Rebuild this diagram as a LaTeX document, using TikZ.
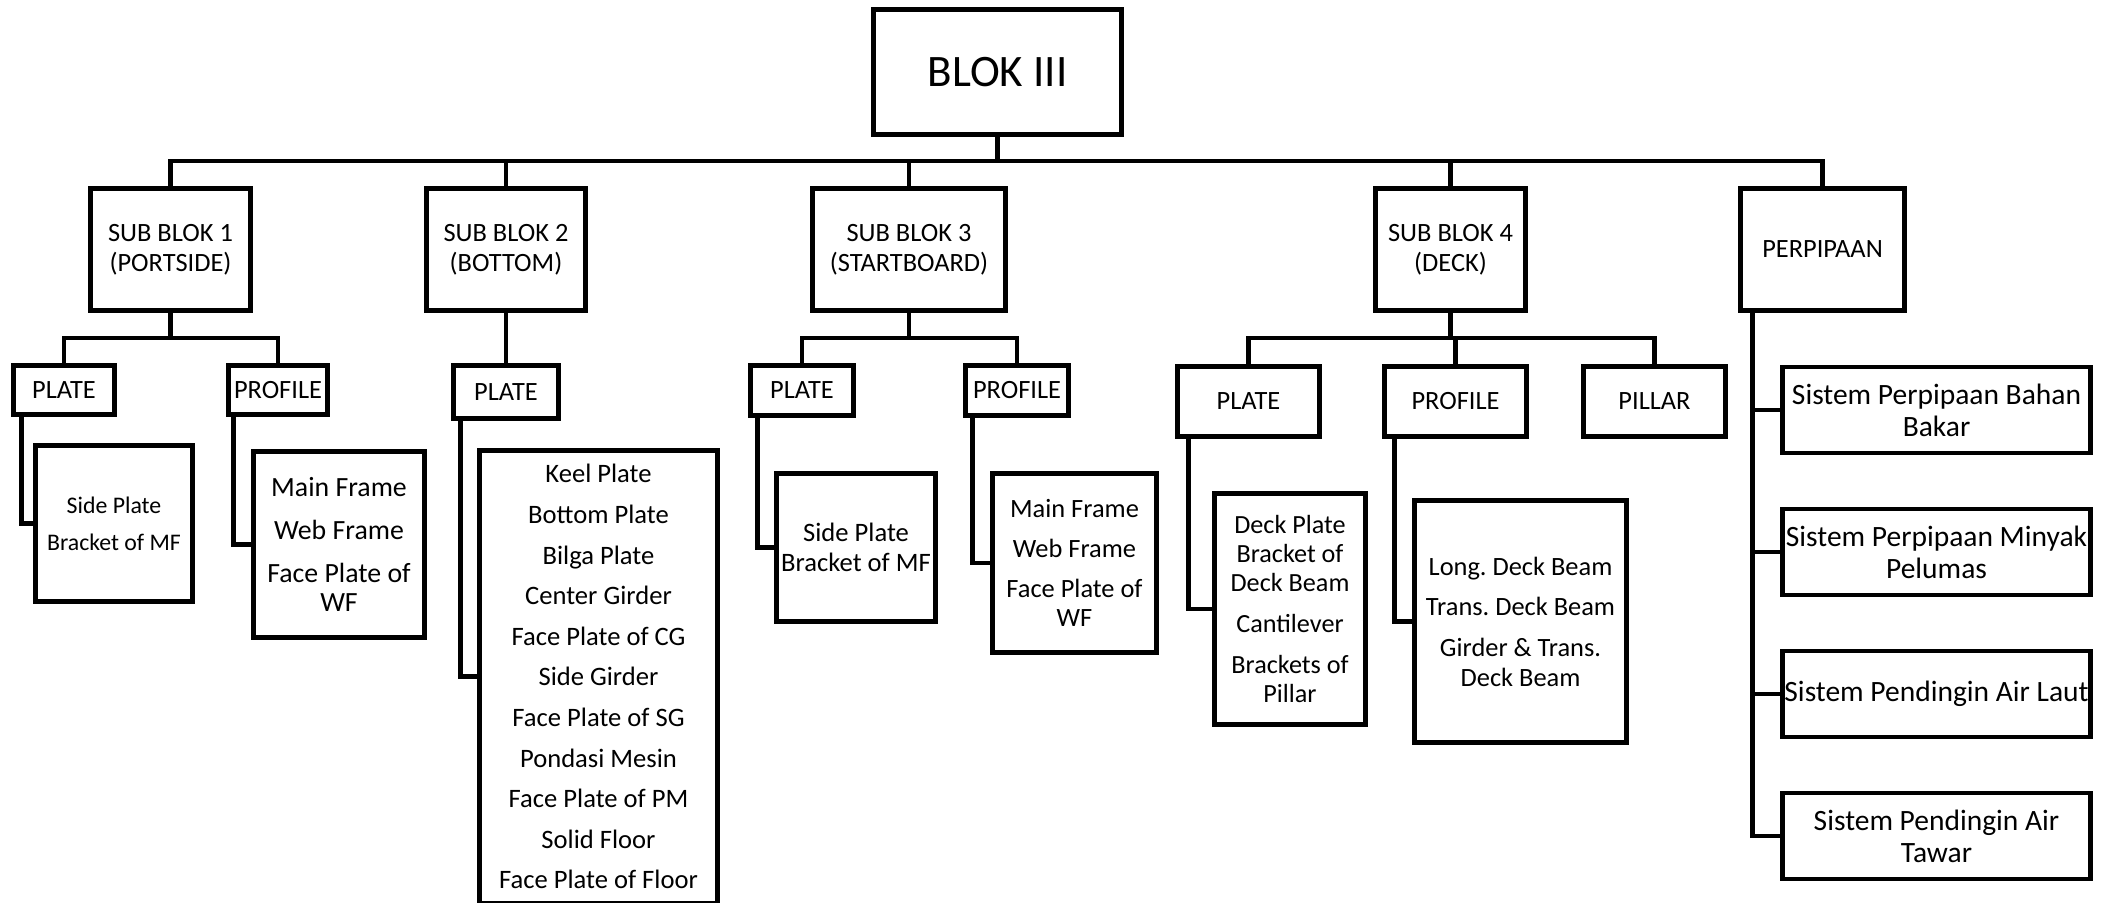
\documentclass[tikz,border=0pt]{standalone}
\usepackage{fontspec}
\setmainfont{Carlito}
\newcommand{\fs}[2]{\fontsize{#1}{#2}\selectfont}
\tikzset{
  bx/.style={draw, line width=2.45pt, inner sep=0pt, align=center, fill=white},
  conn/.style={line width=2.45pt},
  lvtwo/.style={bx, minimum height=61pt, font=\fs{13.2pt}{15pt}},
  lvthree/.style={bx, font=\fs{13.2pt}{15pt}},
  pipebox/.style={bx, minimum width=154pt, minimum height=43pt, font=\fs{14.75pt}{16pt}}
}
\begin{document}
\frenchspacing
\begin{tikzpicture}[x=0.5pt,y=-0.5pt]
\useasboundingbox (0,0) rectangle (2109,902);
\clip (0,0) rectangle (2109,902);
% top
\node[bx, minimum width=124pt, minimum height=62.5pt, font=\fs{22.5pt}{27pt}] (top) at (997.5,72) {BLOK III};
% level 2
\node[lvtwo, minimum width=80pt] (sb1) at (170.5,249.5) {SUB BLOK 1\\(PORTSIDE)};
\node[lvtwo, minimum width=79.75pt] (sb2) at (506,249.5) {SUB BLOK 2\\(BOTTOM)};
\node[lvtwo, minimum width=96.5pt] (sb3) at (909,249.5) {SUB BLOK 3\\(STARTBOARD)};
\node[lvtwo, minimum width=75pt] (sb4) at (1450.5,249.5) {SUB BLOK 4\\(DECK)};
\node[lvtwo, minimum width=82pt] (perp) at (1822.5,249.5) {PERPIPAAN};
% level 3
\node[lvthree, minimum width=50.5pt, minimum height=24.5pt] (p1) at (64,390) {PLATE};
\node[lvthree, minimum width=49.5pt, minimum height=24.5pt] (pr1) at (278,390) {PROFILE};
\node[lvthree, minimum width=52.5pt, minimum height=26.5pt] (p2) at (506,392) {PLATE};
\node[lvthree, minimum width=51.5pt, minimum height=25pt] (p3) at (802,390.5) {PLATE};
\node[lvthree, minimum width=51.5pt, minimum height=25pt] (pr3) at (1017,390.5) {PROFILE};
\node[lvthree, minimum width=71pt, minimum height=35pt] (p4) at (1248.5,401.5) {PLATE};
\node[lvthree, minimum width=71pt, minimum height=35pt] (pr4) at (1455.5,401.5) {PROFILE};
\node[lvthree, minimum width=71pt, minimum height=35pt] (pl4) at (1654.5,401.5) {PILLAR};
% level 4
\node[bx, minimum width=78.5pt, minimum height=78pt, font=\fs{11.9pt}{18.5pt}] (b1) at (114,523.5) {Side Plate\\Bracket of MF};
\node[bx, minimum width=85.5pt, minimum height=93pt, font=\fs{13.9pt}{14.75pt}] (b2) at (339,544.5) {Main Frame\\[6.6pt]Web Frame\\[6.6pt]Face Plate of\\WF};
\node[bx, minimum width=119pt, minimum height=226.5pt, font=\fs{13.3pt}{20.3pt}] (b3) at (598.5,676.8) {Keel Plate\\Bottom Plate\\Bilga Plate\\Center Girder\\Face Plate of CG\\Side Girder\\Face Plate of SG\\Pondasi Mesin\\Face Plate of PM\\Solid Floor\\Face Plate of Floor};
\node[bx, minimum width=79.5pt, minimum height=74pt, font=\fs{13.3pt}{15pt}] (b4) at (856,547.5) {Side Plate\\Bracket of MF};
\node[bx, minimum width=82pt, minimum height=89.5pt, font=\fs{13.2pt}{14.7pt}] (b5) at (1074.5,563) {Main Frame\\[5.3pt]Web Frame\\[5.3pt]Face Plate of\\WF};
\node[bx, minimum width=75.5pt, minimum height=115.5pt, font=\fs{13.1pt}{14.5pt}] (b6) at (1290,609) {Deck Plate\\Bracket of\\Deck Beam\\[6pt]Cantilever\\[6pt]Brackets of\\Pillar};
\node[bx, minimum width=106pt, minimum height=121pt, font=\fs{13.2pt}{14.8pt}] (b7) at (1520.5,621.5) {Long. Deck Beam\\[5.55pt]Trans. Deck Beam\\[5.55pt]Girder \& Trans.\\Deck Beam};
\node[pipebox] (q1) at (1936.5,410) {Sistem Perpipaan Bahan\\Bakar};
\node[pipebox] (q2) at (1936.5,552) {Sistem Perpipaan Minyak\\Pelumas};
\node[pipebox] (q3) at (1936.5,694) {Sistem Pendingin Air Laut};
\node[pipebox] (q4) at (1936.5,836) {Sistem Pendingin Air\\Tawar};
% buses
\coordinate (bus) at (0,161);
\coordinate (sbusA) at (0,338);
\coordinate (sbusC) at (0,338);
\coordinate (sbusD) at (0,338);
\draw[conn] (top.south) -- (top.south |- bus);
\draw[conn] (sb1.north) -- (sb1.north |- bus) -- (perp.north |- bus) -- (perp.north);
\foreach \n in {sb2,sb3,sb4} \draw[conn] (\n.north) -- (\n.north |- bus);
% sub blok 1
\draw[conn] (sb1.south) -- (sb1.south |- sbusA);
\draw[conn] (p1.north) -- (p1.north |- sbusA) -- (pr1.north |- sbusA) -- (pr1.north);
% sub blok 2
\draw[conn] (sb2.south) -- (p2.north);
% sub blok 3
\draw[conn] (sb3.south) -- (sb3.south |- sbusC);
\draw[conn] (p3.north) -- (p3.north |- sbusC) -- (pr3.north |- sbusC) -- (pr3.north);
% sub blok 4
\draw[conn] (sb4.south) -- (sb4.south |- sbusD);
\draw[conn] (p4.north) -- (p4.north |- sbusD) -- (pl4.north |- sbusD) -- (pl4.north);
\draw[conn] (pr4.north) -- (pr4.north |- sbusD);
% leaders
\draw[conn] ([xshift=5.4pt]p1.south west) |- (b1.west);
\draw[conn] ([xshift=3.9pt]pr1.south west) |- (b2.west);
\draw[conn] ([xshift=4.9pt]p2.south west) |- (b3.west);
\draw[conn] ([xshift=4.9pt]p3.south west) |- (b4.west);
\draw[conn] ([xshift=4.9pt]pr3.south west) |- (b5.west);
\draw[conn] ([xshift=6.9pt]p4.south west) |- (b6.west);
\draw[conn] ([xshift=6.4pt]pr4.south west) |- (b7.west);
% perpipaan
\coordinate (pl) at ([xshift=7.1pt]perp.south west);
\draw[conn] (pl) |- (q4.west);
\foreach \q in {q1,q2,q3} \draw[conn] (\q.west) -- (\q.west -| pl);
\end{tikzpicture}
\end{document}
